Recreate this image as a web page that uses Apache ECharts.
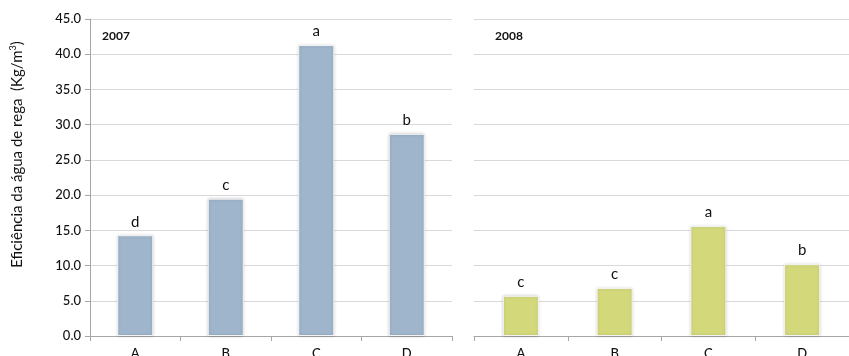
<!DOCTYPE html>
<html>
<head>
<meta charset="utf-8">
<script src="https://cdn.jsdelivr.net/npm/echarts@6/dist/echarts.min.js"></script>
<style>
  html, body { margin: 0; padding: 0; background: #fff; }
  #chart { width: 849px; height: 356px; }
</style>
</head>
<body>
<div id="chart"></div>
<script>
// Irrigation water-use efficiency by treatment, two seasons
const categories = ['A', 'B', 'C', 'D'];
const yTicks = [0, 5, 10, 15, 20, 25, 30, 35, 40, 45];
const values2007 = [14.3, 19.5, 41.3, 28.7];
const letters2007 = ['d', 'c', 'a', 'b'];
const values2008 = [5.7, 6.8, 15.6, 10.2];
const letters2008 = ['c', 'c', 'a', 'b'];

const FONT = 'Lato, "Open Sans", sans-serif';
const axisGrey = '#a6a6a6';
const gridGrey = '#d9d9d9';
const ink = '#111';

function xAxisFor(gridIndex) {
  return {
    type: 'category', gridIndex, data: categories,
    axisLine: { lineStyle: { color: axisGrey, width: 1 } },
    axisTick: { show: true, length: 5, lineStyle: { color: axisGrey } },
    axisLabel: { color: ink, fontFamily: FONT, fontSize: 13, fontWeight: 500, margin: 11 }
  };
}

function yAxisFor(gridIndex, showLabels) {
  return {
    type: 'value', gridIndex, min: yTicks[0], max: yTicks[yTicks.length - 1], interval: 5,
    axisLine: { show: showLabels, lineStyle: { color: axisGrey } },
    axisTick: { show: showLabels, length: 5, lineStyle: { color: axisGrey } },
    splitLine: { lineStyle: { color: gridGrey, width: 1 } },
    axisLabel: {
      show: showLabels, color: ink, fontFamily: FONT, fontSize: 13, fontWeight: 500, margin: 9,
      formatter: v => v.toFixed(1)
    },
    name: showLabels ? '{t|Eficiência da água de rega  (Kg/m}{s|3}{t|)}' : '',
    nameLocation: 'middle', nameGap: 64, nameRotate: 90,
    nameTextStyle: {
      padding: [0, 0, 0, 46],
      rich: {
        t: { fontFamily: FONT, fontSize: 15, color: ink },
        s: { fontFamily: FONT, fontSize: 9, color: ink, verticalAlign: 'top', padding: [0, 0, 8, 0] }
      }
    }
  };
}

function barSeries(idx, values, letters, color) {
  return {
    type: 'bar', xAxisIndex: idx, yAxisIndex: idx, data: values, barWidth: 36,
    itemStyle: {
      color, borderColor: '#f4f4f4', borderWidth: 1,
      shadowColor: 'rgba(0,0,0,0.18)', shadowBlur: 3
    },
    label: {
      show: true, position: 'top', distance: 6, color: ink, fontFamily: FONT, fontSize: 15,
      formatter: p => letters[p.dataIndex]
    }
  };
}

const chart = echarts.init(document.getElementById('chart'), null, { renderer: 'canvas' });
chart.setOption({
  animation: false,
  backgroundColor: '#fff',
  title: [
    { text: '2007', left: 97, top: 25, textStyle: { fontFamily: FONT, fontSize: 12, fontWeight: 'bold', color: ink } },
    { text: '2008', left: 490, top: 25, textStyle: { fontFamily: FONT, fontSize: 12, fontWeight: 'bold', color: ink } }
  ],
  grid: [
    { left: 90, top: 19, width: 362, height: 317, containLabel: false, outerBoundsMode: 'none' },
    { left: 474, top: 19, width: 375, height: 317, containLabel: false, outerBoundsMode: 'none' }
  ],
  xAxis: [xAxisFor(0), xAxisFor(1)],
  yAxis: [yAxisFor(0, true), yAxisFor(1, false)],
  series: [
    barSeries(0, values2007, letters2007, '#9fb5cb'),
    barSeries(1, values2008, letters2008, '#d3d97a')
  ]
});
</script>
</body>
</html>
